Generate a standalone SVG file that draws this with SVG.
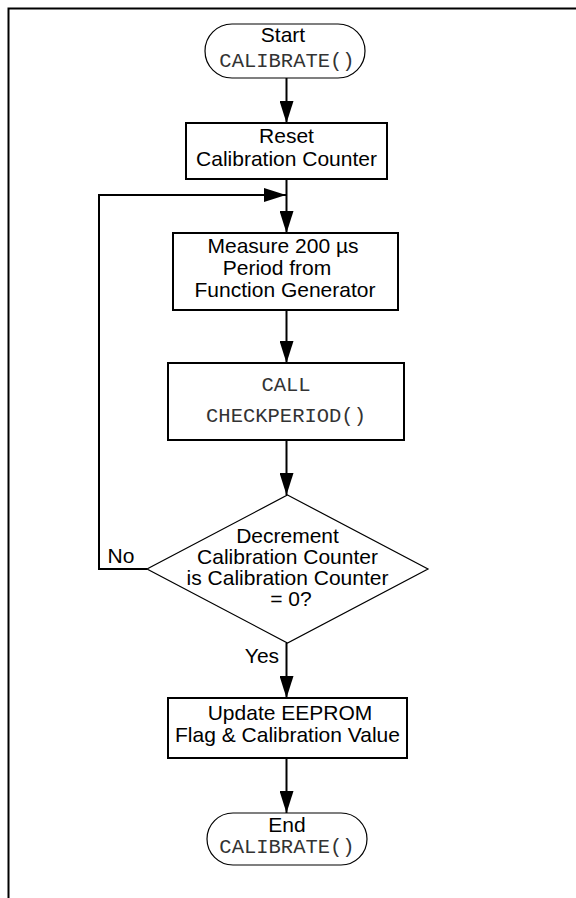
<svg xmlns="http://www.w3.org/2000/svg" width="576" height="898" viewBox="0 0 576 898">
<style>
  .t { font-family: "Liberation Sans", Arial, sans-serif; font-size: 21px; fill: #000; text-anchor: middle; }
  .m { font-family: "Liberation Mono", "Courier New", monospace; font-size: 20.5px; fill: #333; text-anchor: middle; }
  .box { fill: #fff; stroke: #000; stroke-width: 2; }
  .thin { fill: #fff; stroke: #000; stroke-width: 1.2; }
  .c { fill: none; stroke: #000; stroke-width: 2; }
</style>
<defs>
  <marker id="ah" markerWidth="22" markerHeight="14" refX="22" refY="7" orient="auto" markerUnits="userSpaceOnUse">
    <path d="M0,0 L22,7 L0,14 Z" fill="#000"/>
  </marker>
</defs>
<rect width="576" height="898" fill="#fff"/>
<g id="frame">
  <path d="M8.5,898 L8.5,8.5 L576,8.5" fill="none" stroke="#000" stroke-width="2"/>
</g>
<g id="connectors">
  <line class="c" x1="286.5" y1="78" x2="286.5" y2="123" marker-end="url(#ah)"/>
  <line class="c" x1="286.5" y1="179" x2="286.5" y2="233" marker-end="url(#ah)"/>
  <polyline class="c" points="147,569 99,569 99,195 286,195" marker-end="url(#ah)"/>
  <line class="c" x1="286.5" y1="310" x2="286.5" y2="363" marker-end="url(#ah)"/>
  <line class="c" x1="286.5" y1="440" x2="286.5" y2="495" marker-end="url(#ah)"/>
  <line class="c" x1="286.5" y1="643" x2="286.5" y2="698" marker-end="url(#ah)"/>
  <line class="c" x1="286.5" y1="758" x2="286.5" y2="813" marker-end="url(#ah)"/>
  <text class="t" x="121" y="563">No</text>
  <text class="t" x="262" y="663">Yes</text>
</g>
<g id="start">
  <rect class="thin" x="205" y="24" width="160" height="54" rx="27" ry="27"/>
  <text class="t" x="283" y="42">Start</text>
  <text class="m" x="287" y="67">CALIBRATE()</text>
</g>
<g id="reset">
  <rect class="box" x="186" y="123" width="201" height="56"/>
  <text class="t" x="286.5" y="143">Reset</text>
  <text class="t" x="286.5" y="166">Calibration Counter</text>
</g>
<g id="measure">
  <rect class="box" x="173" y="233" width="225" height="77"/>
  <text class="t" x="283" y="253">Measure 200 µs</text>
  <text class="t" x="277" y="275">Period from</text>
  <text class="t" x="285" y="297">Function Generator</text>
</g>
<g id="call">
  <rect class="box" x="168" y="363" width="236" height="77"/>
  <text class="m" x="286" y="391">CALL</text>
  <text class="m" x="286" y="422">CHECKPERIOD()</text>
</g>
<g id="decision">
  <polygon class="thin" points="287.5,495 428,569 287.5,643 147,569"/>
  <text class="t" x="287.5" y="543">Decrement</text>
  <text class="t" x="287.5" y="564">Calibration Counter</text>
  <text class="t" x="287.5" y="585">is Calibration Counter</text>
  <text class="t" x="291" y="606">= 0?</text>
</g>
<g id="update">
  <rect class="box" x="168" y="698" width="239" height="60"/>
  <text class="t" x="290" y="720">Update EEPROM</text>
  <text class="t" x="287.5" y="742">Flag &amp; Calibration Value</text>
</g>
<g id="end">
  <rect class="thin" x="207" y="813" width="160" height="52" rx="26" ry="26"/>
  <text class="t" x="287" y="832">End</text>
  <text class="m" x="287" y="853">CALIBRATE()</text>
</g>
</svg>
